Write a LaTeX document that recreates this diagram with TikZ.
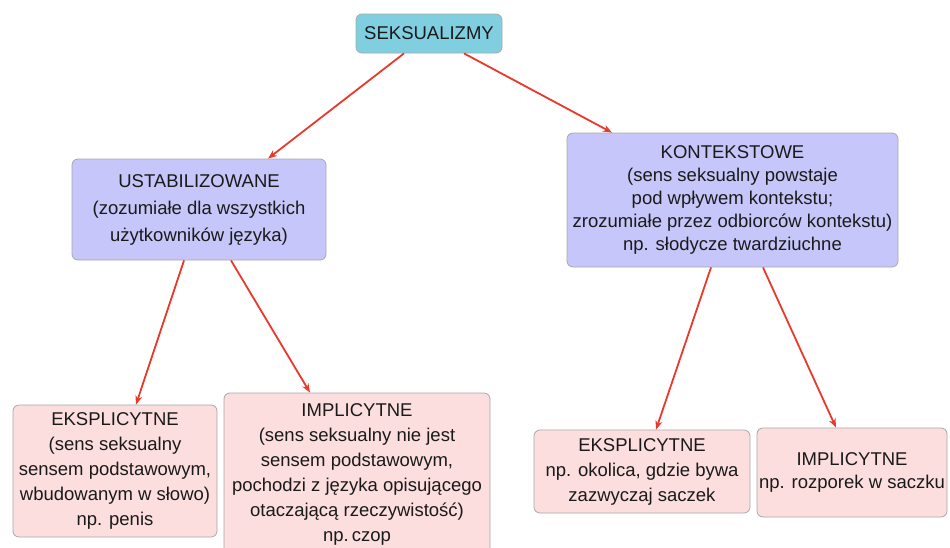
\documentclass[tikz,border=0pt]{standalone}
\usepackage{fontspec}
\setmainfont{Liberation Sans}
\usetikzlibrary{arrows.meta}
\definecolor{cyanbox}{HTML}{7FCFE1}
\definecolor{purplebox}{HTML}{C6C6FA}
\definecolor{pinkbox}{HTML}{FCDEDE}
\definecolor{boxline}{HTML}{A8A8A8}
\definecolor{arrowred}{HTML}{E8392C}
\definecolor{txt}{HTML}{1A1A1A}
\tikzset{
  box/.style={draw=boxline, line width=0.8pt, rounded corners=6pt, inner sep=0pt,
    align=center, text=txt, font=\fontsize{18.5}{25}\selectfont},
  topbox/.style={box, fill=cyanbox},
  midbox/.style={box, fill=purplebox},
  lowbox/.style={box, fill=pinkbox},
  link/.style={draw=arrowred, line width=1.8pt, -{Stealth[length=9pt,width=7pt]}}
}
\begin{document}
\begin{tikzpicture}[x=1pt,y=-1pt]
\clip (0,0) rectangle (950,547);
\fill[white] (0,0) rectangle (950,547);
\node[topbox, minimum width=146pt, minimum height=39pt] (s) at (429,33.5) {SEKSUALIZMY};
\node[midbox, minimum width=254pt, minimum height=101pt, font=\fontsize{18.5}{27}\selectfont] (u) at (199,209.5)
  {USTABILIZOWANE\\(zozumiałe dla wszystkich\\użytkowników języka)};
\node[midbox, minimum width=331pt, minimum height=134pt, font=\fontsize{18.5}{23}\selectfont] (k) at (732.5,200)
  {KONTEKSTOWE\\(sens seksualny powstaje\\pod wpływem kontekstu;\\zrozumiałe przez odbiorców kontekstu)\\np. słodycze twardziuchne};
\node[lowbox, minimum width=204pt, minimum height=132pt] (el) at (115,471)
  {EKSPLICYTNE\\(sens seksualny\\sensem podstawowym,\\wbudowanym w słowo)\\np. penis};
\node[lowbox, minimum width=266pt, minimum height=162pt] (il) at (357,474)
  {IMPLICYTNE\\(sens seksualny nie jest\\sensem podstawowym,\\pochodzi z języka opisującego\\otaczającą rzeczywistość)\\np.\,czop};
\node[lowbox, minimum width=216pt, minimum height=83pt] (er) at (642,471.5)
  {EKSPLICYTNE\\np. okolica, gdzie bywa\\zazwyczaj saczek};
\node[lowbox, minimum width=190pt, minimum height=89pt, font=\fontsize{18.5}{23}\selectfont] (ir) at (852,472.5)
  {IMPLICYTNE\\np. rozporek w saczku};
\draw[link] ([xshift=-25pt]s.south) -- ([xshift=69pt]u.north);
\draw[link] ([xshift=35pt]s.south) -- ([xshift=-120.5pt]k.north);
\draw[link] ([xshift=-15pt]u.south) -- ([xshift=21pt]el.north);
\draw[link] ([xshift=32pt]u.south) -- ([xshift=-47pt]il.north);
\draw[link] ([xshift=-21.5pt]k.south) -- ([xshift=14pt]er.north);
\draw[link] ([xshift=30.5pt]k.south) -- ([xshift=-16pt]ir.north);
\end{tikzpicture}
\end{document}
